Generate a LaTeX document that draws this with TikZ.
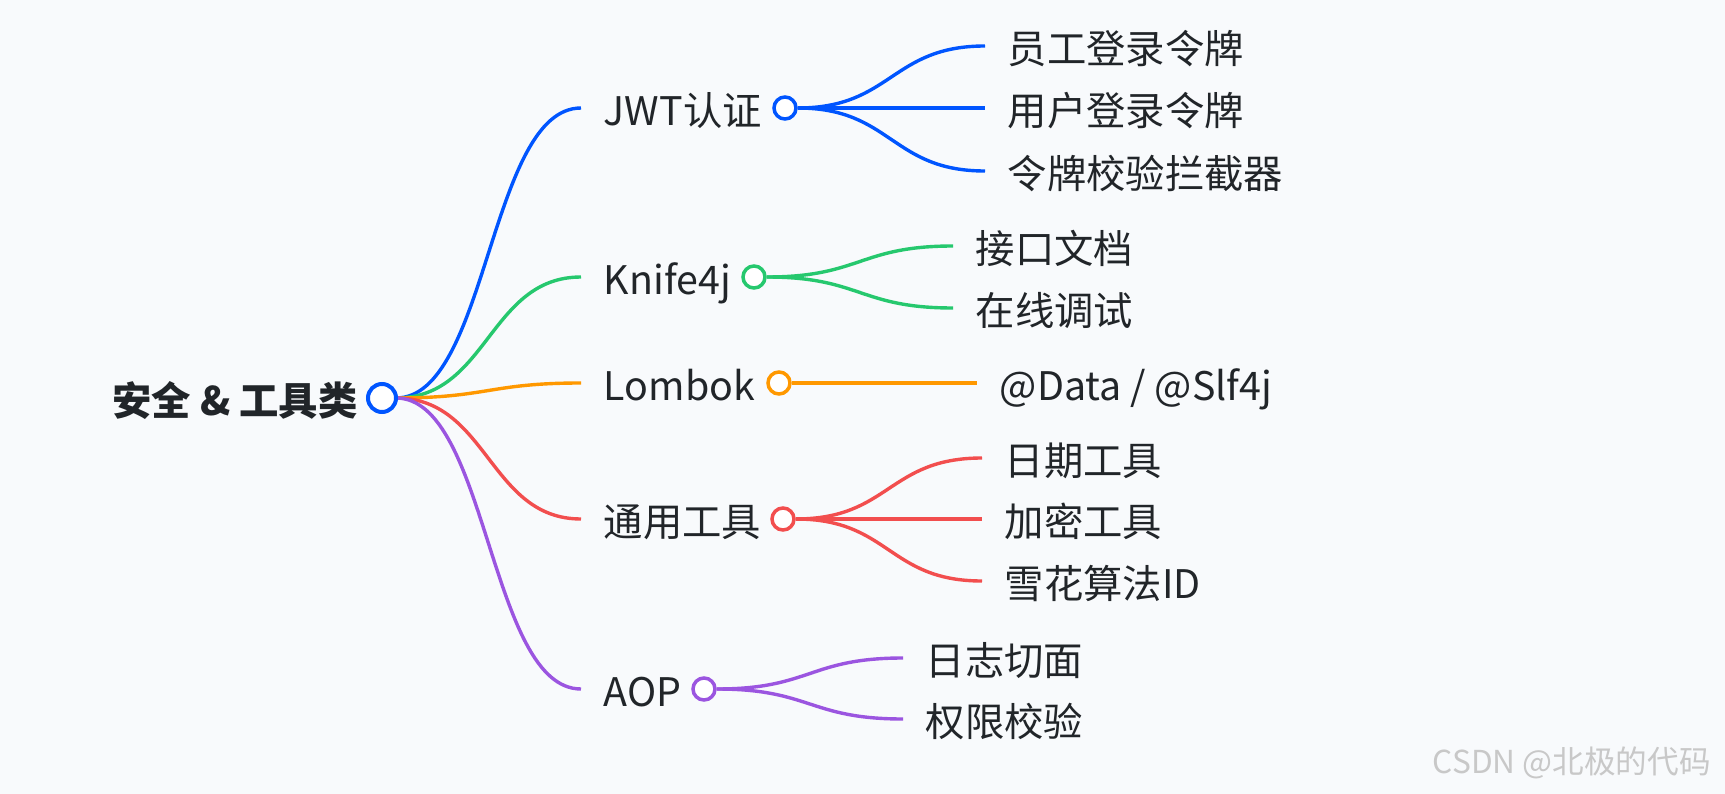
\documentclass[tikz,border=0pt]{standalone}
\usepackage{fontspec}
\setmainfont{Noto Sans CJK SC}
\usepackage{xcolor}
\usepackage{tikz}
\usetikzlibrary{positioning}

\definecolor{bgpaper}{RGB}{248,250,252}
\definecolor{inkdark}{RGB}{33,37,41}
\definecolor{jwtblue}{RGB}{0,85,255}
\definecolor{knifegreen}{RGB}{38,200,110}
\definecolor{lomborange}{RGB}{255,152,0}
\definecolor{toolred}{RGB}{242,78,78}
\definecolor{aoppurple}{RGB}{155,85,224}
\definecolor{markgray}{RGB}{200,200,200}

\begin{document}
\begin{tikzpicture}[x=0.02cm, y=-0.02cm,
    every node/.style={font=\fontsize{22.4}{26}\selectfont, text=inkdark},
    topic/.style={anchor=east, inner sep=0pt, text height=22pt, text depth=2pt, font=\fontsize{22.4}{26}\selectfont\bfseries},
    item/.style={anchor=west, inner xsep=0.45cm, inner ysep=0pt, text height=22pt, text depth=2pt},
    dot/.style={circle, draw=#1, fill=white, line width=0.07cm, minimum size=0.44cm, inner sep=0pt},
    link/.style={draw=#1, line width=0.068cm},
  ]

  % Background and size
  \fill[bgpaper] (0,0) rectangle (1725,794);

  % Root
  \node[topic] (root) at (358,398) {安全 \& 工具类};

  % Branches
  \node[item] (jwt)    at (581,108) {JWT认证};
  \node[item] (knife)  at (581,277) {Knife4j};
  \node[item] (lombok) at (581,383) {Lombok};
  \node[item] (tools)  at (581,519) {通用工具};
  \node[item] (aop)    at (581,689) {AOP};

  % Leaves
  \node[item] (jwtA) at (985,46)  {员工登录令牌};
  \node[item] (jwtB) at (985,108) {用户登录令牌};
  \node[item] (jwtC) at (985,171) {令牌校验拦截器};
  \node[item] (knifeA) at (953,246) {接口文档};
  \node[item] (knifeB) at (953,308) {在线调试};
  \node[item] (lombokA) at (977,383) {@Data / @Slf4j};
  \node[item] (toolsA) at (982,458) {日期工具};
  \node[item] (toolsB) at (982,519) {加密工具};
  \node[item] (toolsC) at (982,581) {雪花算法ID};
  \node[item] (aopA) at (903,658) {日志切面};
  \node[item] (aopB) at (903,719) {权限校验};

  % Root links
  \draw[link=jwtblue]    (382,398) ++(14,0) coordinate (hub)
    .. controls +(92,0) and +(-92,0) .. (jwt.west);
  \draw[link=knifegreen] (hub) .. controls +(92,0) and +(-92,0) .. (knife.west);
  \draw[link=lomborange] (hub) .. controls +(92,0) and +(-92,0) .. (lombok.west);
  \draw[link=toolred]    (hub) .. controls +(92,0) and +(-92,0) .. (tools.west);
  \draw[link=aoppurple]  (hub) .. controls +(92,0) and +(-92,0) .. (aop.west);

  % Branch dots
  \node[dot=jwtblue]    (jwtdot)    at (785,108) {};
  \node[dot=knifegreen] (knifedot)  at (754,277) {};
  \node[dot=lomborange] (lombokdot) at (779,383) {};
  \node[dot=toolred]    (toolsdot)  at (783,519) {};
  \node[dot=aoppurple]  (aopdot)    at (704,689) {};

  % Leaf links
  \draw[link=jwtblue] (jwtdot.east) .. controls +(94,0) and +(-94,0) .. (jwtA.west);
  \draw[link=jwtblue] (jwtdot.east) -- (jwtB.west);
  \draw[link=jwtblue] (jwtdot.east) .. controls +(94,0) and +(-94,0) .. (jwtC.west);
  \draw[link=knifegreen] (knifedot.east) .. controls +(94,0) and +(-94,0) .. (knifeA.west);
  \draw[link=knifegreen] (knifedot.east) .. controls +(94,0) and +(-94,0) .. (knifeB.west);
  \draw[link=lomborange] (lombokdot.east) -- (lombokA.west);
  \draw[link=toolred] (toolsdot.east) .. controls +(94,0) and +(-94,0) .. (toolsA.west);
  \draw[link=toolred] (toolsdot.east) -- (toolsB.west);
  \draw[link=toolred] (toolsdot.east) .. controls +(94,0) and +(-94,0) .. (toolsC.west);
  \draw[link=aoppurple] (aopdot.east) .. controls +(94,0) and +(-94,0) .. (aopA.west);
  \draw[link=aoppurple] (aopdot.east) .. controls +(94,0) and +(-94,0) .. (aopB.west);

  % Root dot on top
  \node[dot=jwtblue, minimum size=0.56cm, line width=0.08cm] (hubdot) at (382,398) {};

  % Watermark
  \node[anchor=east, text=markgray, font=\fontsize{18}{20}\selectfont] (mark) at (1717,763) {CSDN @北极的代码};

\end{tikzpicture}
\end{document}
